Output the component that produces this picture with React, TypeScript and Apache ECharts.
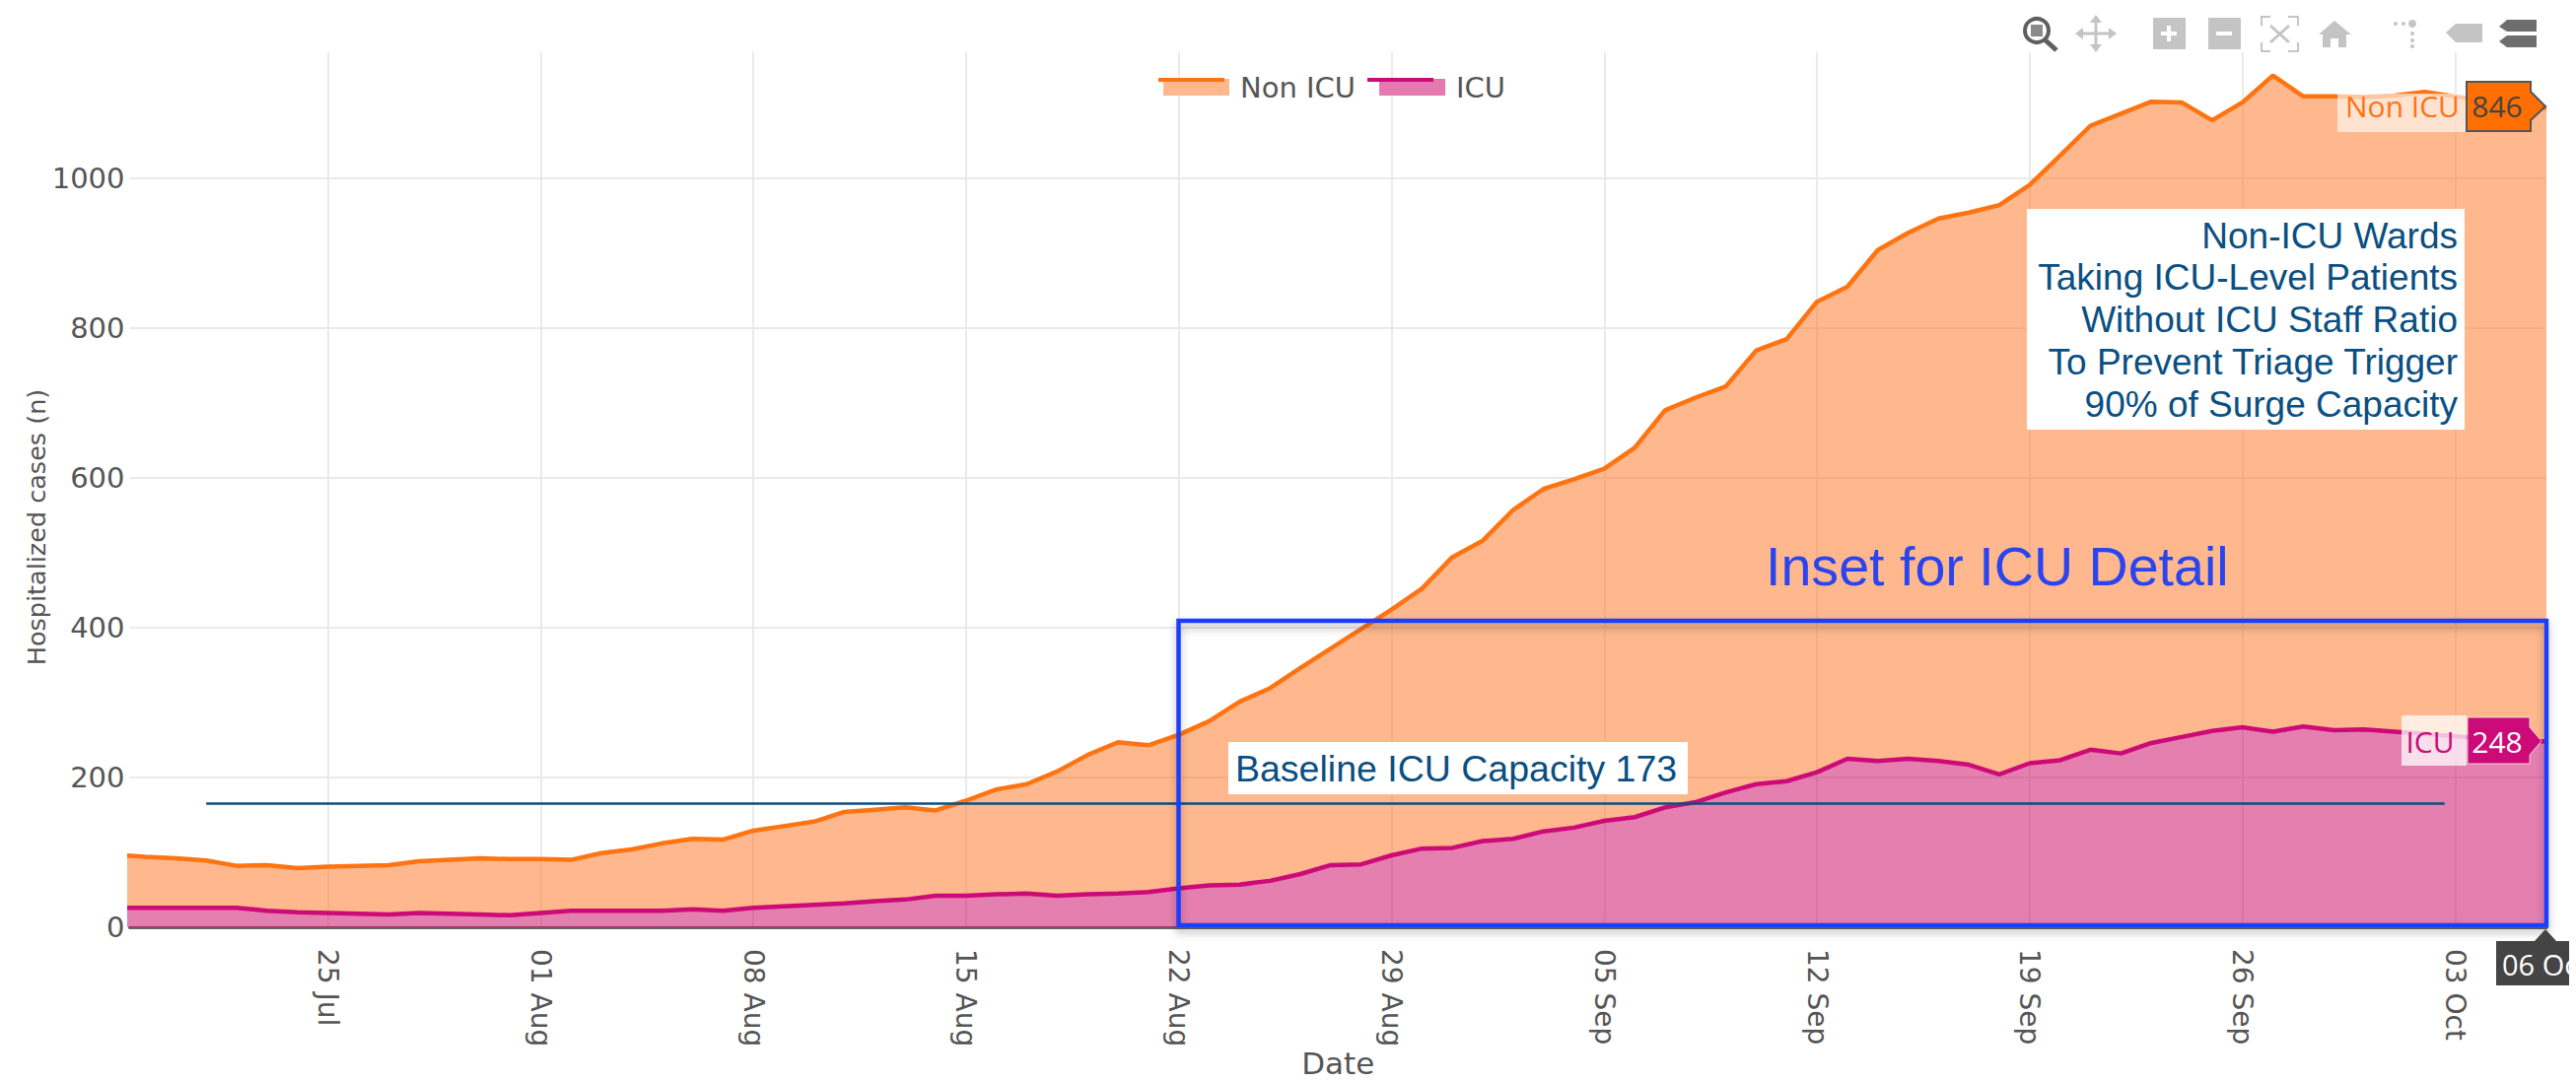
import React, { useEffect, useRef } from "react";
import * as echarts from "echarts";

// Day numbers count from 18 Jul (day 0) to 06 Oct (day 80).
const icuValues = [26,26,26,26,26,22,20,19,18,17,19,18,17,16,19,22,22,22,22,24,22,26,28,30,32,35,37,42,42,44,45,42,44,45,47,52,56,57,62,71,83,84,96,105,106,115,118,128,133,142,147,160,167,180,191,195,207,225,222,225,222,217,204,219,223,237,232,246,254,262,267,261,268,263,264,261,258,255,252,250,248];
const nonIcuValues = [71,68,66,63,56,61,59,62,64,66,69,72,75,75,72,68,77,82,90,94,95,103,107,111,122,122,123,114,127,140,146,166,186,202,196,205,219,244,257,275,289,314,328,347,388,401,439,457,465,470,493,530,540,542,579,590,628,630,682,702,724,737,760,772,807,833,854,856,847,815,834,876,841,846,844,849,857,854,851,847,846];
const yTicks = [0, 200, 400, 600, 800, 1000];
const xTickDates = ["25 Jul","01 Aug","08 Aug","15 Aug","22 Aug","29 Aug","05 Sep","12 Sep","19 Sep","26 Sep","03 Oct"];
const xTickDays = [7,14,21,28,35,42,49,56,63,70,77];
const baselineLevel = 165;
const baselineDays = [3, 76.65];
const baselineText = "Baseline ICU Capacity 173";
const insetText = "Inset for ICU Detail";
const noteLines = ["Non-ICU Wards","Taking ICU-Level Patients","Without ICU Staff Ratio","To Prevent Triage Trigger","90% of Surge Capacity"];

const ORANGE = "#FF7311";
const ORANGE_FILL = "rgba(255,113,27,0.5)";
const PINK = "#CC0A78";
const PINK_FILL = "rgba(201,0,97,0.5)";
const NAVY = "#0A4F82";
const BLUE = "#1A3CFF";
const TICK = "#555555";
const SANS = "'DejaVu Sans'";
const HELV = "'Liberation Sans'";

const z = 100;
const rect = (x: number, y: number, width: number, height: number, style: any, zz = z) => ({ type: "rect", z: zz, shape: { x, y, width, height }, style });
const line = (x1: number, y1: number, x2: number, y2: number, stroke: string, lineWidth = 3) => ({ type: "line", z, shape: { x1, y1, x2, y2 }, style: { stroke, lineWidth } });
const poly = (points: number[][], style: any) => ({ type: "polygon", z, shape: { points }, style });
const label = (text: string, x: number, y: number, font: string, fill: string, align = "left", zz = z + 1) => ({ type: "text", z: zz, x, y, style: { text, font, fill, align, verticalAlign: "middle" } });

function toolbar() {
  const g = "#C4C4C4";
  const d = "#5F5F5F";
  return [
    { type: "circle", z, shape: { cx: 2066, cy: 31, r: 12 }, style: { fill: "none", stroke: d, lineWidth: 4 } },
    rect(2060, 25, 12, 12, { fill: "#8A8A8A" }),
    line(2075, 41, 2086, 51, d, 5),
    line(2108, 34, 2144, 34, g, 3),
    line(2126, 18, 2126, 50, g, 3),
    poly([[2126,15],[2120,23],[2132,23]], { fill: g }),
    poly([[2126,53],[2120,45],[2132,45]], { fill: g }),
    poly([[2105,34],[2113,28],[2113,40]], { fill: g }),
    poly([[2147,34],[2139,28],[2139,40]], { fill: g }),
    rect(2184, 18, 33, 32, { fill: g }),
    line(2200, 26, 2200, 42, "#FFFFFF", 4),
    line(2192, 34, 2208, 34, "#FFFFFF", 4),
    rect(2240, 18, 33, 32, { fill: g }),
    line(2248, 34, 2264, 34, "#FFFFFF", 4),
    { type: "polyline", z, shape: { points: [[2294,26],[2294,17],[2303,17]] }, style: { stroke: g, lineWidth: 2, fill: "none" } },
    { type: "polyline", z, shape: { points: [[2321,17],[2331,17],[2331,26]] }, style: { stroke: g, lineWidth: 2, fill: "none" } },
    { type: "polyline", z, shape: { points: [[2294,43],[2294,52],[2303,52]] }, style: { stroke: g, lineWidth: 2, fill: "none" } },
    { type: "polyline", z, shape: { points: [[2321,52],[2331,52],[2331,43]] }, style: { stroke: g, lineWidth: 2, fill: "none" } },
    line(2303, 26, 2322, 43, g, 3),
    line(2322, 26, 2303, 43, g, 3),
    poly([[2368,21],[2385,35],[2380,35],[2380,48],[2372,48],[2372,39],[2364,39],[2364,48],[2356,48],[2356,35],[2352,35]], { fill: g }),
    { type: "circle", z, shape: { cx: 2447, cy: 24, r: 4 }, style: { fill: g } },
    { type: "circle", z, shape: { cx: 2438, cy: 24, r: 2 }, style: { fill: g } },
    { type: "circle", z, shape: { cx: 2430, cy: 24, r: 2 }, style: { fill: g } },
    { type: "circle", z, shape: { cx: 2447, cy: 34, r: 2 }, style: { fill: g } },
    { type: "circle", z, shape: { cx: 2447, cy: 41, r: 2 }, style: { fill: g } },
    { type: "circle", z, shape: { cx: 2447, cy: 47, r: 2 }, style: { fill: g } },
    poly([[2481,33],[2491,24],[2518,24],[2518,43],[2491,43]], { fill: g }),
    poly([[2535,27],[2543,20],[2573,20],[2573,32],[2543,32]], { fill: "#6E6E6E" }),
    poly([[2535,42],[2543,36],[2573,36],[2573,48],[2543,48]], { fill: "#6E6E6E" }),
  ];
}

function buildOption() {
  // The value comes first so that ECharts stacks it rather than the day number.
  const rows = (vals: number[]) => vals.map((v, i) => [v, i]);
  const elements: any[] = [
    ...toolbar(),
    rect(1175, 79, 67, 4, { fill: ORANGE }),
    rect(1387, 79, 67, 4, { fill: PINK }),
    rect(1195.5, 630, 1387.5, 309, { fill: "none", stroke: BLUE, lineWidth: 4.5, shadowBlur: 8, shadowOffsetY: 5, shadowColor: "rgba(0,0,0,0.3)" }),
    label(insetText, 1791, 575, `55.6px ${HELV}`, "#2A44F0"),
    rect(1246, 753, 466, 53, { fill: "#FFFFFF" }),
    label(baselineText, 1253, 780, `37.5px ${HELV}`, NAVY),
    rect(2056, 212, 444, 224, { fill: "#FFFFFF" }),
    ...noteLines.map((t, i) => label(t, 2493, 239 + i * 42.8, `37px ${HELV}`, NAVY, "right")),
    rect(2371, 95, 131, 39, { fill: "rgba(255,255,255,0.6)" }),
    label("Non ICU", 2379, 107, `30px 'Open Sans'`, ORANGE),
    poly([[2502,83],[2567,83],[2567,93],[2582,108],[2567,122],[2567,133],[2502,133]], { fill: "#FF6E00", stroke: "#555555", lineWidth: 2 }),
    label(String(nonIcuValues[nonIcuValues.length - 1]), 2533, 107, `30px 'Open Sans'`, "#444444", "center"),
    rect(2436, 726, 66, 51, { fill: "rgba(255,255,255,0.75)" }),
    label("ICU", 2465, 752, `30px 'Open Sans'`, PINK, "center"),
    poly([[2503,728],[2566,728],[2566,738],[2578,752],[2566,766],[2566,775],[2503,775]], { fill: PINK, stroke: "rgba(255,255,255,0.7)", lineWidth: 1 }),
    label(String(icuValues[icuValues.length - 1]), 2533, 752, `30px 'Open Sans'`, "#FFFFFF", "center"),
    poly([[2582,943],[2593,955],[2606,955],[2606,1000],[2532,1000],[2532,955],[2571,955]], { fill: "#444444" }),
    label("06 Oct", 2538, 978, `29px 'Open Sans'`, "#FFFFFF"),
    rect(2606, 950, 7, 60, { fill: "#FFFFFF" }, z + 2),
  ];

  return {
    animation: false,
    backgroundColor: "#FFFFFF",
    grid: { left: 131.5, right: 30, top: 53, bottom: 155, outerBoundsMode: "none" },
    legend: {
      left: 1175,
      top: 69,
      icon: "rect",
      itemWidth: 67,
      itemHeight: 17,
      itemGap: 24,
      selectedMode: false,
      textStyle: { fontFamily: SANS, fontSize: 29, color: TICK, padding: [0, 0, 0, 6] },
      data: [
        { name: "Non ICU", itemStyle: { color: "#FFB88D" } },
        { name: "ICU", itemStyle: { color: "#E47AB0" } },
      ],
    },
    xAxis: {
      type: "value",
      min: 0.48,
      max: 80,
      name: "Date",
      nameLocation: "middle",
      nameGap: 122,
      nameMoveOverlap: false,
      nameTextStyle: { fontFamily: SANS, fontSize: 31, color: TICK },
      axisLine: { show: true, onZero: false, lineStyle: { color: "#666666", width: 3 } },
      axisTick: { show: false, customValues: xTickDays },
      splitLine: { show: true, lineStyle: { color: "#EAEAEA", width: 2 } },
      axisLabel: {
        customValues: xTickDays,
        rotate: -90,
        margin: 22,
        padding: [18, 0, 0, 0],
        fontFamily: SANS,
        fontSize: 28,
        color: TICK,
        formatter: (v: number) => xTickDates[xTickDays.indexOf(Math.round(v))] ?? "",
      },
    },
    yAxis: {
      type: "value",
      min: 0,
      max: 1168,
      name: "Hospitalized cases (n)",
      nameLocation: "middle",
      nameGap: 82,
      nameMoveOverlap: false,
      nameTextStyle: { fontFamily: SANS, fontSize: 25.5, color: TICK, padding: [0, 76, 0, 0] },
      axisLine: { show: false },
      axisTick: { show: false, customValues: yTicks },
      splitLine: { show: true, lineStyle: { color: "#EAEAEA", width: 2 } },
      axisLabel: { customValues: yTicks, margin: 5, fontFamily: SANS, fontSize: 29, color: TICK, formatter: (v: number) => String(v) },
    },
    series: [
      {
        name: "ICU",
        type: "line",
        stack: "cases",
        z: 4,
        showSymbol: false,
        encode: { x: 1, y: 0 },
        data: rows(icuValues),
        lineStyle: { color: PINK, width: 4.5 },
        itemStyle: { color: PINK },
        areaStyle: { color: PINK_FILL, opacity: 1 },
      },
      {
        name: "Non ICU",
        type: "line",
        stack: "cases",
        z: 3,
        showSymbol: false,
        encode: { x: 1, y: 0 },
        data: rows(nonIcuValues),
        lineStyle: { color: ORANGE, width: 4.5 },
        itemStyle: { color: ORANGE },
        areaStyle: { color: ORANGE_FILL, opacity: 1 },
      },
      {
        name: "Baseline ICU Capacity",
        type: "line",
        z: 6,
        showSymbol: false,
        data: baselineDays.map((d) => [d, baselineLevel]),
        lineStyle: { color: NAVY, width: 2.5 },
      },
    ],
    graphic: { elements },
  };
}

export default function App() {
  const ref = useRef<HTMLDivElement>(null);
  useEffect(() => {
    document.body.style.margin = "0";
    document.body.style.overflow = "hidden";
    const chart = echarts.init(ref.current!, undefined, { renderer: "svg" });
    chart.setOption(buildOption() as any);
    return () => chart.dispose();
  }, []);
  return <div ref={ref} style={{ width: 2613, height: 1096 }} />;
}
